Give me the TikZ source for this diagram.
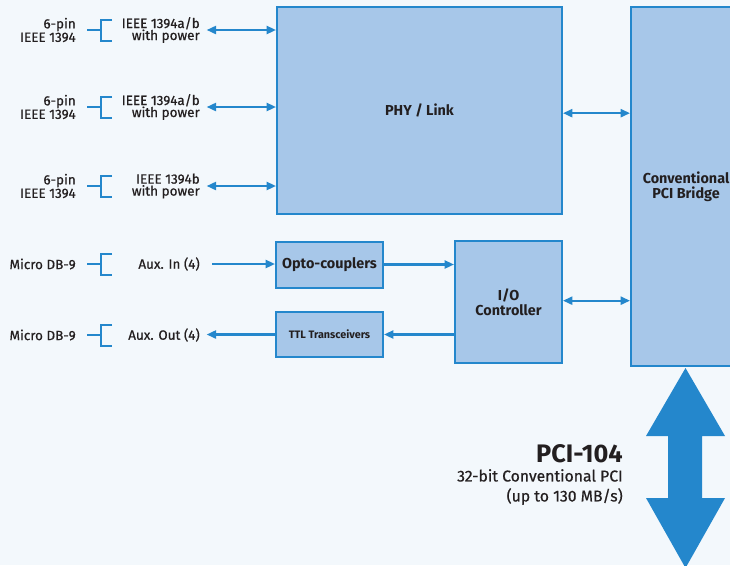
\documentclass[tikz,border=0pt]{standalone}
\usepackage{fontspec}
\setmainfont{Fira Sans}
\newfontfamily\medfont{Fira Sans}[FakeBold=0.6]
\usetikzlibrary{arrows.meta,positioning}

\definecolor{bgblue}{RGB}{243,248,252}
\definecolor{boxblue}{RGB}{167,199,233}
\definecolor{linkblue}{RGB}{36,135,204}
\definecolor{inkgray}{RGB}{35,31,32}

\tikzset{
  blkbox/.style={draw=linkblue,fill=boxblue,line width=1.5pt,inner sep=0pt,align=center,
    text=inkgray,font=\bfseries\fontsize{10.8}{11.2}\selectfont},
  sidelbl/.style={align=right,inner sep=0pt,text=inkgray,font=\medfont\fontsize{10.1}{9}\selectfont},
  jack/.style={draw=linkblue,line width=1.5pt},
  link/.style={draw=linkblue,line width=1.6pt,-{Triangle[length=7pt,width=6pt]}},
  dlink/.style={link,{Triangle[length=7pt,width=6pt]}-{Triangle[length=7pt,width=6pt]}}
}

\begin{document}
\begin{tikzpicture}[x=0.75pt,y=-0.75pt]
  \path[use as bounding box,fill=bgblue] (0,0) rectangle (730,565);
  \clip (0,0) rectangle (730,565);

  % main blocks
  \node[blkbox,minimum width=285*0.75pt,minimum height=207*0.75pt] (phy) at (419.5,110.5) {PHY / Link};
  \node[blkbox,minimum width=110*0.75pt,minimum height=359*0.75pt] (bridge) at (686,186.5) {Conventional\\PCI Bridge};
  \node[blkbox,minimum width=107*0.75pt,minimum height=46*0.75pt] (opto) at (329.5,264.5) {Opto-couplers};
  \node[blkbox,minimum width=107*0.75pt,minimum height=45*0.75pt,font=\bfseries\fontsize{8.1}{9}\selectfont] (ttl) at (329.5,334.5) {TTL Transceivers};
  \node[blkbox,minimum width=107*0.75pt,minimum height=122*0.75pt] (ioc) at (508.5,302) {I/O\\Controller};

  % connector labels
  \node[sidelbl,anchor=east] (pin1) at (76,30) {6-pin\\IEEE 1394};
  \node[sidelbl,anchor=east] (pin2) at (76,107) {6-pin\\IEEE 1394};
  \node[sidelbl,anchor=east] (pin3) at (76,186) {6-pin\\IEEE 1394};
  \node[sidelbl,anchor=east] (db1) at (76,264) {Micro DB-9};
  \node[sidelbl,anchor=east] (db2) at (76,335) {Micro DB-9};

  \node[sidelbl,anchor=east] (fw1) at (200,30) {IEEE 1394a/b\\with power};
  \node[sidelbl,anchor=east] (fw2) at (200,107) {IEEE 1394a/b\\with power};
  \node[sidelbl,anchor=east] (fw3) at (200,186) {IEEE 1394b\\with power};
  \node[sidelbl,anchor=east] (auxin) at (200,264) {Aux. In (4)};
  \node[sidelbl,anchor=east] (auxout) at (200,335) {Aux. Out (4)};

  % jacks
  \foreach \y in {30,107,186,264,335}
    \draw[jack] (87,\y) -- (101,\y) (112,\y-10.5) -- (101,\y-10.5) -- (101,\y+10.5) -- (112,\y+10.5);

  % links
  \draw[dlink] ([xshift=5pt]fw1.east) -- (fw1.east -| phy.west);
  \draw[dlink] ([xshift=5pt]fw2.east) -- (fw2.east -| phy.west);
  \draw[dlink] ([xshift=5pt]fw3.east) -- (fw3.east -| phy.west);
  \draw[link] ([xshift=9pt]auxin.east) -- (auxin.east -| opto.west);
  \draw[link] (ttl.west) -- ([xshift=5pt]ttl.west -| auxout.east);
  \draw[link] (opto.east) -- (opto.east -| ioc.west);
  \draw[link] (ttl.east -| ioc.west) -- (ttl.east);
  \draw[dlink] ([yshift=-2pt]phy.east) -- ([yshift=-2pt]phy.east -| bridge.west);
  \draw[dlink] ([yshift=1pt]ioc.east) -- ([yshift=1pt]ioc.east -| bridge.west);

  % PCI-104 bus
  \fill[linkblue] (685.5,368) -- (725,436) -- (702,436) -- (702,498) -- (725,498) -- (685.5,568)
    -- (646,498) -- (668,498) -- (668,436) -- (646,436) -- cycle;
  \node[anchor=east,inner sep=0pt,text=inkgray,font=\bfseries\fontsize{19}{21}\selectfont] (pci) at (623,454) {PCI-104};
  \node[sidelbl,anchor=east,font=\medfont\fontsize{11.8}{15}\selectfont] (pcinfo) at (623,487) {32-bit Conventional PCI\ \\(up to 130 MB/s)};
\end{tikzpicture}
\end{document}
